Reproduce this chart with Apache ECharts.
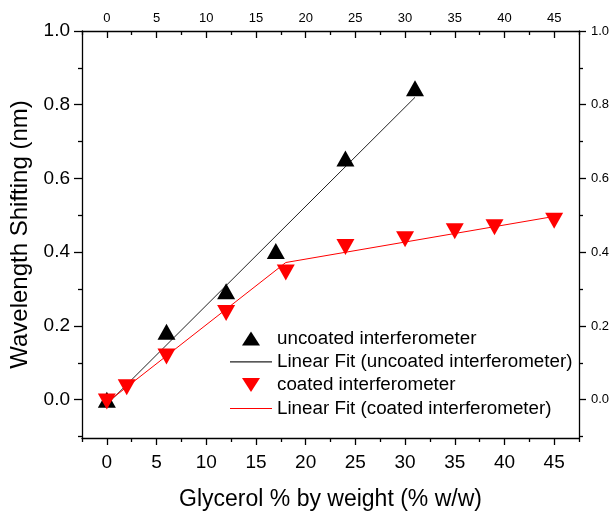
<!DOCTYPE html>
<html>
<head>
<meta charset="utf-8">
<script src="https://cdn.jsdelivr.net/npm/echarts@6/dist/echarts.min.js"></script>
<style>
html,body{margin:0;padding:0;background:#fff;}
#chart{width:615px;height:516px;}
</style>
</head>
<body>
<div id="chart"></div>
<script>
// ---- data ----
const uncoatedX = [0, 6, 12, 17, 24, 31];
const uncoatedY = [0.000, 0.184, 0.294, 0.403, 0.654, 0.845];
const uncoatedFitX = [0, 31];
const uncoatedFitY = [-0.013, 0.820];

const coatedX = [0, 2, 6, 12, 18, 24, 30, 35, 39, 45];
const coatedY = [-0.005, 0.034, 0.117, 0.235, 0.345, 0.414, 0.435, 0.457, 0.468, 0.485];
const coatedFitX = [0, 18, 45];
const coatedFitY = [-0.008, 0.372, 0.497];

const xMajorTicks = [0, 5, 10, 15, 20, 25, 30, 35, 40, 45];
const xMinorTicks = [-2.5, 2.5, 7.5, 12.5, 17.5, 22.5, 27.5, 32.5, 37.5, 42.5, 47.5];
const yMajorTicks = [0, 0.2, 0.4, 0.6, 0.8, 1.0];
const yMinorTicks = [-0.1, 0.1, 0.3, 0.5, 0.7, 0.9];

const seriesNames = [
  'uncoated interferometer',
  'Linear Fit (uncoated interferometer)',
  'coated interferometer',
  'Linear Fit (coated interferometer)'
];

const zip = (xs, ys) => xs.map((x, i) => [x, ys[i]]);
const FONT = '"Liberation Sans", Arial, sans-serif';
const X_MIN = -2.5, X_MAX = 47.5, Y_MIN = -0.104, Y_MAX = 1.0;

// legend icons (42x16 box kept by the invisible move-to corners)
const ICON_LINE = 'path://M0,0 M42,16 M0,7.5 L42,7.5 L42,8.6 L0,8.6 Z';
const ICON_UP = 'path://M0,0 M42,16 M21,1 L30,15 L12,15 Z';
const ICON_DOWN = 'path://M0,0 M42,16 M12,1 L30,1 L21,15 Z';

function xAxisDef(pos, major, showLabel, fontSize, inside, len, name) {
  const ticks = major ? xMajorTicks : xMinorTicks;
  return {
    type: 'value', position: pos, min: X_MIN, max: X_MAX,
    axisLine: { show: major, onZero: false, lineStyle: { color: '#000', width: 1.3 } },
    axisTick: { show: true, inside: inside, length: len, customValues: ticks,
                lineStyle: { color: '#000', width: 1.3 } },
    axisLabel: { show: showLabel, customValues: ticks, color: '#000', fontFamily: FONT,
                 fontSize: fontSize, margin: pos === 'bottom' ? 15 : 6,
                 formatter: v => String(v) },
    splitLine: { show: false },
    name: name || '', nameLocation: 'middle', nameGap: 50,
    nameTextStyle: { color: '#000', fontFamily: FONT, fontSize: 23 }
  };
}
function yAxisDef(pos, major, showLabel, fontSize, len, name) {
  const ticks = major ? yMajorTicks : yMinorTicks;
  return {
    type: 'value', position: pos, min: Y_MIN, max: Y_MAX,
    axisLine: { show: major, onZero: false, lineStyle: { color: '#000', width: 1.3 } },
    axisTick: { show: true, inside: false, length: len, customValues: ticks,
                lineStyle: { color: '#000', width: 1.3 } },
    axisLabel: { show: showLabel, customValues: ticks, color: '#000', fontFamily: FONT,
                 fontSize: fontSize, margin: 12,
                 formatter: v => v.toFixed(1) },
    splitLine: { show: false },
    name: name || '', nameLocation: 'middle', nameGap: 50,
    nameTextStyle: { color: '#000', fontFamily: FONT, fontSize: 24 }
  };
}

const chart = echarts.init(document.getElementById('chart'), null, { renderer: 'canvas' });
chart.setOption({
  backgroundColor: '#fff',
  animation: false,
  grid: { left: 82, right: 36, top: 31, bottom: 76, containLabel: false },
  xAxis: [
    xAxisDef('bottom', true, true, 19, false, 7, 'Glycerol % by weight (% w/w)'),
    xAxisDef('bottom', false, false, 19, false, 4),
    xAxisDef('top', true, true, 13, true, 7),
    xAxisDef('top', false, false, 13, true, 4)
  ],
  yAxis: [
    yAxisDef('left', true, true, 19, 8, 'Wavelength Shifting (nm)'),
    yAxisDef('left', false, false, 19, 4),
    yAxisDef('right', true, true, 13, 7),
    yAxisDef('right', false, false, 13, 4)
  ],
  legend: {
    orient: 'vertical', left: 225, top: 324, padding: 5,
    itemWidth: 42, itemHeight: 16, itemGap: 4.3,
    data: [
      { name: seriesNames[0], icon: ICON_UP },
      { name: seriesNames[1], icon: ICON_LINE },
      { name: seriesNames[2], icon: ICON_DOWN },
      { name: seriesNames[3], icon: ICON_LINE }
    ],
    textStyle: { color: '#000', fontFamily: FONT, fontSize: 18.8, lineHeight: 19 }
  },
  series: [
    {
      name: seriesNames[1], type: 'line', data: zip(uncoatedFitX, uncoatedFitY),
      symbol: 'none', lineStyle: { color: '#222', width: 1 }, itemStyle: { color: '#222' }, z: 2
    },
    {
      name: seriesNames[3], type: 'line', data: zip(coatedFitX, coatedFitY),
      symbol: 'none', lineStyle: { color: '#ff0000', width: 1 }, itemStyle: { color: '#ff0000' }, z: 2
    },
    {
      name: seriesNames[0], type: 'scatter', data: zip(uncoatedX, uncoatedY),
      symbol: 'triangle', symbolSize: [18, 16], itemStyle: { color: '#000', opacity: 1 }, z: 3
    },
    {
      name: seriesNames[2], type: 'scatter', data: zip(coatedX, coatedY),
      symbol: 'triangle', symbolRotate: 180, symbolSize: [18, 16],
      itemStyle: { color: '#ff0000', opacity: 1 }, z: 4
    }
  ]
});
</script>
</body>
</html>
